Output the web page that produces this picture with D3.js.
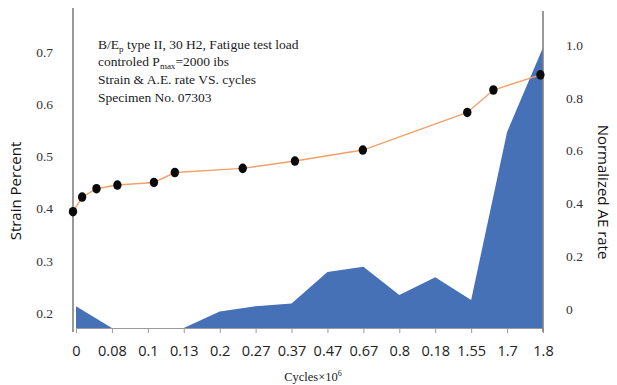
<!DOCTYPE html>
<html>
<head>
<meta charset="utf-8">
<script src="https://cdn.jsdelivr.net/npm/d3@7"></script>
<style>
    body { margin: 0; background: #fff; }
    svg { display: block; }
</style>
</head>
<body>
<div id="chart"></div>
<script>
// x categories (as printed on the chart)
const cycleLabels = ['0', '0.08', '0.1', '0.13', '0.2', '0.27', '0.37', '0.47', '0.67', '0.8', '0.18', '1.55', '1.7', '1.8'];
// normalized AE rate per category (right axis), values under the axis floor are clipped
const aeRate = [0.01, -0.08, -0.08, -0.08, -0.01, 0.01, 0.02, 0.14, 0.16, 0.053, 0.12, 0.034, 0.67, 0.99];

// strain readings (left axis) against cycles x10^6
const strainCycles = [0, 0.035, 0.09, 0.17, 0.31, 0.39, 0.65, 0.85, 1.11, 1.51, 1.61, 1.79];
const strainValues = [0.394, 0.422, 0.438, 0.445, 0.45, 0.469, 0.477, 0.491, 0.512, 0.584, 0.627, 0.656];

const leftTicks = [0.2, 0.3, 0.4, 0.5, 0.6, 0.7];
const rightTicks = [0, 0.2, 0.4, 0.6, 0.8, 1.0];

const noteLines = [
    [['B/E', 0], ['p', 1], [' type II, 30 H2, Fatigue test load', 0]],
    [['controled P', 0], ['max', 1], ['=2000 ibs', 0]],
    [['Strain & A.E. rate VS. cycles', 0]],
    [['Specimen No. 07303', 0]]
];

const width = 617, height = 385;
const plot = { left: 73, right: 543, top: 8, bottom: 328 };

const svg = d3.select('#chart')
    .append('svg')
    .attr('width', width)
    .attr('height', height);

// scales
const x = d3.scalePoint()
    .domain(cycleLabels)
    .range([76, plot.right]);

const xLine = d3.scaleLinear()
    .domain([0, 1.8])
    .range([plot.left, plot.right]);

const yLeft = d3.scaleLinear()
    .domain([0.1713, 0.784])
    .range([plot.bottom, plot.top]);

const yRight = d3.scaleLinear()
    .domain([-0.0725, 1.14])
    .range([plot.bottom, plot.top])
    .clamp(true);

// AE rate area
const area = d3.area()
    .x((d, i) => x(cycleLabels[i]))
    .y0(plot.bottom)
    .y1(d => yRight(d));

svg.append('path')
    .datum(aeRate)
    .attr('fill', '#4671b7')
    .attr('d', area);

// x axis
const xAxis = svg.append('g')
    .attr('transform', `translate(0,${plot.bottom})`)
    .call(d3.axisBottom(x).tickSize(5).tickPadding(13));

xAxis.select('.domain')
    .attr('stroke', '#9a9a9a')
    .attr('d', `M${x(cycleLabels[0])},0.5H${plot.right}`);
xAxis.selectAll('.tick line').attr('stroke', '#9a9a9a');
xAxis.selectAll('.tick text')
    .attr('fill', '#222')
    .style('font-family', '"Open Sans", sans-serif')
    .style('font-size', '14.5px');

// vertical axis lines
svg.append('line')
    .attr('x1', plot.left).attr('x2', plot.left)
    .attr('y1', plot.top).attr('y2', plot.bottom + 4)
    .attr('stroke', '#808080')
    .attr('stroke-width', 1.6);

svg.append('line')
    .attr('x1', plot.right).attr('x2', plot.right)
    .attr('y1', plot.top + 3).attr('y2', plot.bottom + 4)
    .attr('stroke', '#808080')
    .attr('stroke-width', 1.6);

// left tick labels
const leftAxis = svg.append('g')
    .attr('transform', `translate(${plot.left},0)`)
    .call(d3.axisLeft(yLeft).tickValues(leftTicks).tickSize(0).tickPadding(20).tickFormat(d3.format('.1f')));
leftAxis.select('.domain').remove();
leftAxis.selectAll('text')
    .attr('fill', '#333')
    .style('font-family', '"Liberation Serif", serif')
    .style('font-size', '13.5px');

// right tick labels
const rightAxis = svg.append('g')
    .attr('transform', `translate(${plot.right},0)`)
    .call(d3.axisRight(yRight).tickValues(rightTicks).tickSize(0).tickPadding(23)
        .tickFormat(d => d === 0 ? '0' : d3.format('.1f')(d)));
rightAxis.select('.domain').remove();
rightAxis.selectAll('text')
    .attr('fill', '#333')
    .style('font-family', '"Liberation Serif", serif')
    .style('font-size', '13.5px');

// strain line + markers
const line = d3.line()
    .x((d, i) => xLine(strainCycles[i]))
    .y(d => yLeft(d));

svg.append('path')
    .datum(strainValues)
    .attr('fill', 'none')
    .attr('stroke', '#f4a06a')
    .attr('stroke-width', 1.4)
    .attr('d', line);

svg.append('g')
    .selectAll('ellipse')
    .data(strainValues)
    .enter()
    .append('ellipse')
    .attr('cx', (d, i) => xLine(strainCycles[i]))
    .attr('cy', d => yLeft(d))
    .attr('rx', 4.2)
    .attr('ry', 4.8)
    .attr('fill', '#0a0a0a');

// annotation block
const note = svg.append('text')
    .attr('fill', '#222')
    .style('font-family', '"Liberation Serif", serif')
    .style('font-size', '13.5px');

noteLines.forEach((parts, i) => {
    parts.forEach(([txt, sub], j) => {
        const t = note.append('tspan').text(txt);
        if (j === 0) t.attr('x', 98).attr('y', 48.5 + i * 17.7);
        if (sub) {
            t.attr('dy', 3).style('font-size', '9px');
        } else if (j > 0 && parts[j - 1][1]) {
            t.attr('dy', -3);
        }
    });
});

// axis titles
svg.append('text')
    .attr('transform', 'translate(21,191) rotate(-90)')
    .attr('text-anchor', 'middle')
    .attr('fill', '#111')
    .style('font-family', '"Open Sans", sans-serif')
    .style('font-size', '15px')
    .text('Strain Percent');

svg.append('text')
    .attr('transform', 'translate(598,192) rotate(90)')
    .attr('text-anchor', 'middle')
    .attr('fill', '#111')
    .style('font-family', '"Open Sans", sans-serif')
    .style('font-size', '15px')
    .text('Normalized AE rate');

const xTitle = svg.append('text')
    .attr('x', 313)
    .attr('y', 381)
    .attr('text-anchor', 'middle')
    .attr('fill', '#222')
    .style('font-family', '"Liberation Serif", serif')
    .style('font-size', '12.5px');
xTitle.append('tspan').text('Cycles×10');
xTitle.append('tspan').attr('dy', -5).style('font-size', '8px').text('6');
</script>
</body>
</html>
